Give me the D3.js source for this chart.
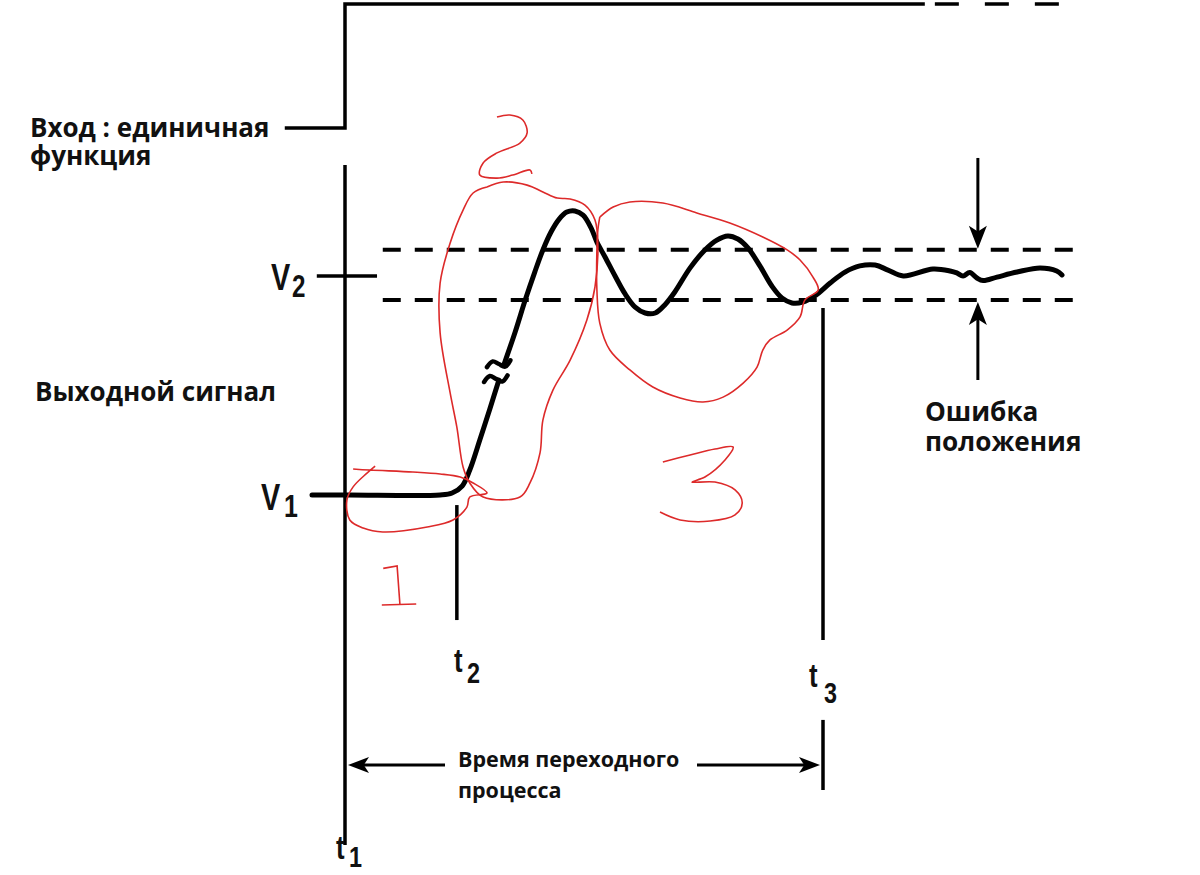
<!DOCTYPE html>
<html><head><meta charset="utf-8">
<script src="https://cdn.jsdelivr.net/npm/d3@7"></script>
<style>body{margin:0;background:#fff}</style>
</head><body>
<script>
// ---- data (time in % of settling time, t1=0, t3=100; value in % with V1=0, V2=100)
const timeNames = ["t1","t2","t3"];
const timeValues = [0, 23.4, 100];
const levelNames = ["V1","V2"];
const levelValues = [0, 100];
const errorBand = [89, 112];
const inputT = [-12.6, 0, 0, 121.3];
const inputV = [167.6, 167.6, 224.2, 224.2];
const inputTailT = [123.4, 151.7];
// response before the axis break
const resp1T = [-6.9, 1.0, 19.9, 22.4, 24.5, 26.1, 28.2, 30.3, 32.2];
const resp1V = [0, 0, 0, 0.9, 4.1, 11.4, 25.1, 39.3, 52.5];
// response after the axis break
const resp2T = [33.3, 35.6, 37.7, 39.7, 41.4, 43.1, 44.8, 46.4, 48.1, 49.8, 51.5, 52.7, 54.4, 56.5, 58.6, 60.7, 62.8, 64.9, 66.9, 69.0, 72.2, 75.3, 77.8, 80.1, 82.2, 84.3, 86.8, 89.3, 91.4, 93.5, 95.8, 98.3, 101.5, 104.6, 107.7, 110.9, 113.6, 116.8, 123.0, 126.6, 128.0, 129.3, 130.7, 132.2, 133.5, 136.4, 140.6, 145.4, 148.9, 150.0];
const resp2V = [59.8, 74.4, 89.0, 101.8, 111.9, 120.1, 126.0, 129.2, 129.7, 127.8, 121.9, 115.5, 108.7, 100.0, 91.8, 85.8, 83.1, 83.1, 86.8, 92.7, 103.7, 111.9, 116.4, 118.3, 116.9, 112.8, 104.6, 95.4, 90.0, 87.7, 88.1, 90.9, 96.8, 101.8, 104.6, 105.0, 102.7, 100.0, 103.2, 102.3, 101.4, 100.0, 101.6, 99.1, 97.9, 99.5, 101.8, 103.7, 102.3, 100.5];
const breakUpperT = [29.7, 30.9, 32.2, 33.5, 34.6];
const breakUpperV = [58.4, 61.0, 59.8, 58.6, 61.5];
const breakLowerT = [29.1, 30.3, 31.6, 32.9, 34.0];
const breakLowerV = [51.6, 54.3, 53.0, 51.8, 54.6];
const errorArrowT = 132.4;
const errorArrowFrom = [153.9, 52.5];
// hand-drawn red annotations
const zone1T = [1.7, 5.2, 14.2, 19.9, 24.1, 26.8, 29.7, 26.1, 25.5, 22.6, 17.2, 7.9, 3.8, 1.0, 0.4, 1.7, 4.6, 6.3];
const zone1V = [11.9, 11.4, 10.5, 9.6, 8.2, 5.5, 0.9, -0.9, -5.5, -11.4, -14.6, -16.9, -15.1, -11.4, -2.3, 3.7, 10.0, 13.2];
const zone2T = [29.7, 33.1, 38.1, 41.4, 44.4, 47.1, 50.2, 52.3, 52.9, 52.3, 50.6, 47.1, 43.5, 41.4, 40.8, 38.7, 36.6, 28.9, 26.1, 24.7, 23.4, 22.0, 19.9, 19.9, 22.0, 24.7, 26.8, 29.7];
const zone2V = [140.6, 142.9, 141.5, 138.4, 135.6, 135.2, 132.4, 125.6, 114.2, 95.0, 79.9, 61.6, 47.9, 34.2, 19.2, 5.5, -0.9, -0.9, 5.5, 12.8, 31.0, 46.6, 74.0, 96.8, 115.1, 130.1, 137.9, 140.6];
const zone3T = [53.3, 56.1, 59.6, 66.5, 73.6, 80.5, 87.4, 92.5, 95.2, 97.9, 99.0, 96.2, 95.2, 92.5, 88.9, 87.4, 86.2, 83.3, 79.1, 74.9, 70.1, 64.4, 59.6, 55.4, 53.3, 52.7, 52.7, 52.9, 53.3];
const zone3V = [126.9, 131.5, 133.8, 133.3, 128.8, 124.2, 117.8, 111.9, 107.3, 99.5, 93.6, 89.0, 81.3, 75.3, 70.8, 66.2, 58.4, 51.1, 44.7, 42.5, 44.3, 49.3, 57.1, 66.2, 78.5, 93.6, 111.9, 121.0, 126.9];
const digit1aT = [8.0, 10.9, 11.5]; const digit1aV = [-33.5, -32.4, -50.2];
const digit1bT = [7.7, 14.9]; const digit1bV = [-50.2, -49.8];
const digit2T = [31.8, 34.5, 37.2, 38.1, 36.6, 31.8, 28.9, 28.2, 31.8, 35.1, 38.7, 39.1];
const digit2V = [172.6, 173.5, 171.2, 165.3, 160.7, 156.2, 151.6, 146.1, 144.7, 146.1, 148.4, 146.6];
const digit3T = [66.5, 72.2, 77.4, 81.2, 79.5, 75.3, 72.6, 77.4, 81.6, 83.1, 81.6, 76.4, 70.1, 65.9];
const digit3V = [15.1, 18.3, 21.0, 21.9, 16.0, 8.2, 5.9, 5.9, 2.3, -3.7, -9.1, -11.9, -11.4, -7.8];

const zip = (a, b) => a.map((d, i) => [d, b[i]]);

// ---- scales
const W = 1200, H = 875;
const x = d3.scaleLinear().domain([0, 100]).range([345, 823]);
const y = d3.scaleLinear().domain([0, 100]).range([495, 276]);

const svg = d3.select("body").append("svg").attr("width", W).attr("height", H)
  .style("background", "#fff");

const line = d3.line().x(d => x(d[0])).y(d => y(d[1]));
const smooth = d3.line().x(d => x(d[0])).y(d => y(d[1])).curve(d3.curveCatmullRom.alpha(0.5));

function seg(x1, y1, x2, y2, w, dash) {
  const l = svg.append("line").attr("x1", x1).attr("y1", y1).attr("x2", x2).attr("y2", y2)
    .attr("stroke", "#000").attr("stroke-width", w);
  if (dash) l.attr("stroke-dasharray", dash);
  return l;
}
function head(tx, ty, dx, dy, len, half) {
  const px = -dy, py = dx;
  const bx = tx - dx * len, by = ty - dy * len;
  svg.append("path")
    .attr("d", `M${tx},${ty}L${bx + px * half},${by + py * half}L${bx + dx * len * 0.25},${by + dy * len * 0.25}L${bx - px * half},${by - py * half}Z`)
    .attr("fill", "#000");
}

// ---- input step
svg.append("path").attr("d", line(zip(inputT, inputV))).attr("fill", "none")
  .attr("stroke", "#000").attr("stroke-width", 3.5);
seg(x(inputTailT[0]), y(inputV[3]), x(inputTailT[1]), y(inputV[3]), 3.5, "24,26");

// ---- vertical axis at t1 and time markers
seg(x(timeValues[0]), y(150.7), x(timeValues[0]), y(-159.8), 3.5);
seg(x(timeValues[1]), y(-4.6), x(timeValues[1]), y(-57.1), 3.5);
seg(x(timeValues[2]), y(85.4), x(timeValues[2]), y(-66.2), 3.5);
seg(x(timeValues[2]), y(-102.7), x(timeValues[2]), y(-134.7), 3.5);

// ---- error band
errorBand.forEach(v => seg(x(7.9), y(v), x(153.1), y(v), 4, "18,14"));
seg(x(-5.9), y(levelValues[1]), x(6.7), y(levelValues[1]), 3.5);

// ---- response
svg.append("path").attr("d", smooth(zip(resp1T, resp1V))).attr("fill", "none")
  .attr("stroke", "#000").attr("stroke-width", 5).attr("stroke-linecap", "round");
svg.append("path").attr("d", smooth(zip(resp2T, resp2V))).attr("fill", "none")
  .attr("stroke", "#000").attr("stroke-width", 5).attr("stroke-linecap", "round").attr("stroke-linejoin", "round");
[[breakUpperT, breakUpperV], [breakLowerT, breakLowerV]].forEach(([a, b]) => {
  svg.append("path").attr("d", smooth(zip(a, b))).attr("fill", "none")
    .attr("stroke", "#000").attr("stroke-width", 4.5).attr("stroke-linecap", "round");
});

// ---- error arrows
const ex = x(errorArrowT);
seg(ex, y(errorArrowFrom[0]), ex, y(errorBand[1]) - 15, 3);
head(ex, y(errorBand[1]) - 1, 0, 1, 23, 9);
seg(ex, y(errorArrowFrom[1]), ex, y(errorBand[0]) + 15, 3);
head(ex, y(errorBand[0]) + 2, 0, -1, 23, 9);

// ---- settling time arrow
const ay = y(-123.3);
seg(x(0) + 15, ay, 445, ay, 3);
head(x(0) + 3, ay, -1, 0, 21, 8);
seg(697, ay, x(100) - 15, ay, 3);
head(x(100) - 3, ay, 1, 0, 21, 8);

// ---- red annotations
const red = "#dd2a2a";
[[zone1T, zone1V], [zone2T, zone2V], [zone3T, zone3V], [digit2T, digit2V], [digit3T, digit3V]].forEach(([a, b]) => {
  svg.append("path").attr("d", smooth(zip(a, b))).attr("fill", "none")
    .attr("stroke", red).attr("stroke-width", 1.6).attr("stroke-linejoin", "round");
});
[[digit1aT, digit1aV], [digit1bT, digit1bV]].forEach(([a, b]) => {
  svg.append("path").attr("d", line(zip(a, b))).attr("fill", "none")
    .attr("stroke", red).attr("stroke-width", 1.6);
});

// ---- texts (multi-line labels as one text element with tspans)
const sans = "'Open Sans', 'DejaVu Sans', sans-serif";
function txt(lines, tx, ty, size, lh) {
  const t = svg.append("text").attr("x", tx).attr("y", ty)
    .attr("font-family", sans).attr("font-weight", 700).attr("font-size", size).attr("fill", "#111");
  lines.forEach((s, i) => t.append("tspan").attr("x", tx).attr("y", ty + i * lh).text(s));
}
txt(["Вход : единичная", "функция"], 30, 137, 26, 28);
txt(["Выходной сигнал"], 35, 401, 26, 0);
txt(["Ошибка", "положения"], 925, 421, 26.2, 30);
txt(["Время переходного", "процесса"], 458, 767, 21.5, 31);

function sublabel(main, sub, mx, my, sx, sy, ms, ss) {
  const g = svg.append("g").attr("font-family", "'Liberation Sans', Arial, sans-serif")
    .attr("font-weight", 700).attr("fill", "#111");
  g.append("text").attr("transform", `translate(${mx},${my}) scale(0.78,1)`).attr("font-size", ms).text(main);
  g.append("text").attr("transform", `translate(${sx},${sy}) scale(0.78,1)`).attr("font-size", ss).text(sub);
}
sublabel("V", levelNames[1].slice(1), 271, 290, 292, 297, 37, 31);
sublabel("V", levelNames[0].slice(1), 261, 510, 284, 517, 37, 32);
const tpos = [[336, 859, 349, 867], [454, 672, 467, 683], [809, 687, 824, 703]];
timeNames.forEach((n, i) => {
  const p = tpos[i];
  sublabel("t", n.slice(1), p[0], p[1], p[2], p[3], 33, 30);
});
</script>
</body></html>
